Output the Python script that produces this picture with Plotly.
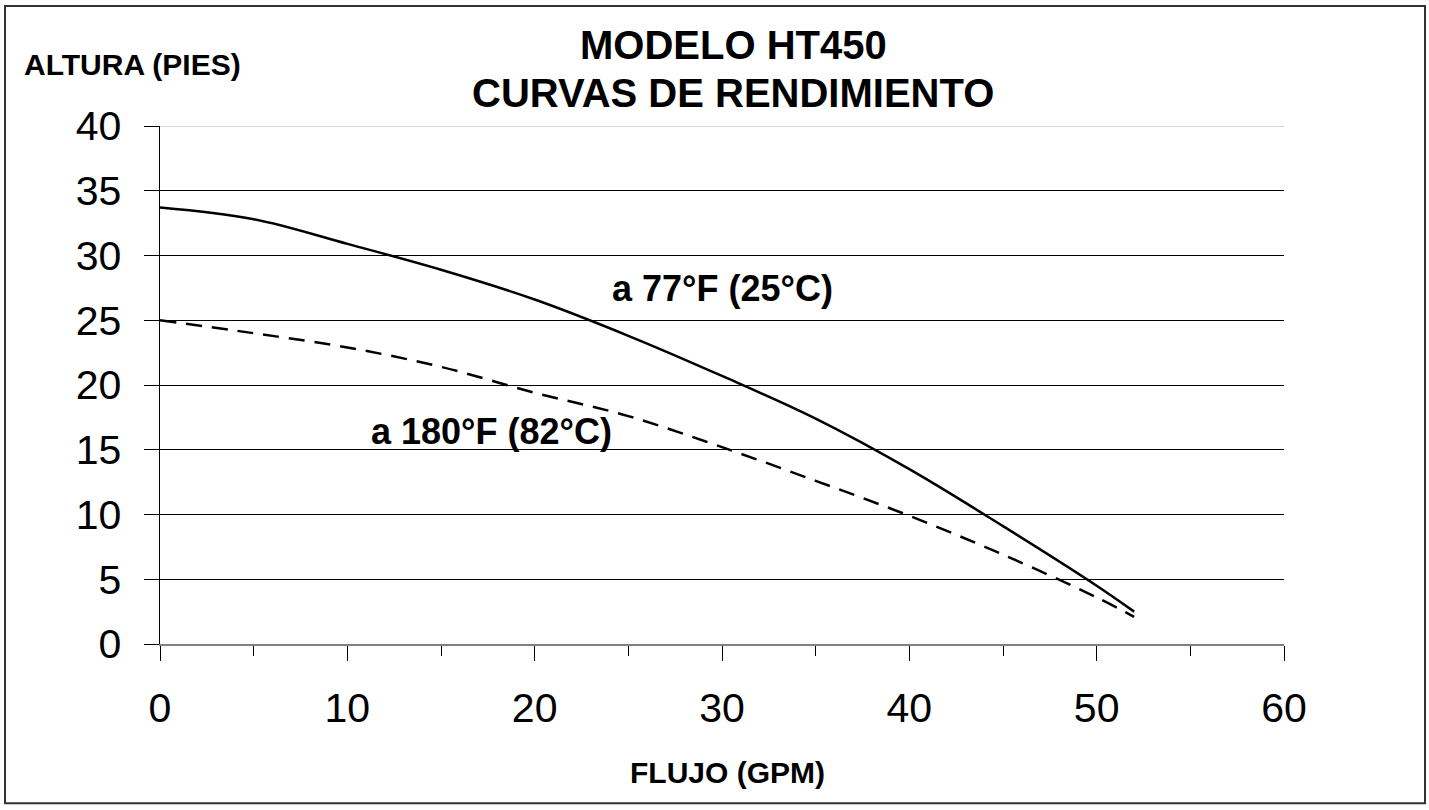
import plotly.graph_objects as go

# Data
flow_gpm = [0, 5, 10, 15, 20, 25, 30, 35, 40, 45, 50, 52]
head_77f = [33.7, 32.8, 30.9, 28.9, 26.6, 23.8, 20.7, 17.4, 13.5, 9.1, 4.5, 2.5]
head_180f = [25.0, 24.0, 22.9, 21.4, 19.4, 17.6, 15.2, 12.6, 9.9, 6.9, 3.6, 2.1]

x_ticks = [0, 10, 20, 30, 40, 50, 60]
y_ticks = [0, 5, 10, 15, 20, 25, 30, 35, 40]

title_1 = "MODELO HT450"
title_2 = "CURVAS DE RENDIMIENTO"
y_title = "ALTURA (PIES)"
x_title = "FLUJO (GPM)"
label_77 = "a 77°F (25°C)"
label_180 = "a 180°F (82°C)"

FONT = "Liberation Sans, Arial, sans-serif"
W, H = 1429, 810
PL, PR, PT, PB = 160, 1284, 126, 644.5   # plot area in screen pixels
PW = PR - PL
PH = PB - PT


def px(xp):
    return (xp - PL) / PW


def py(yp):
    return (PB - yp) / PH


fig = go.Figure()
fig.add_trace(go.Scatter(x=flow_gpm, y=head_77f, mode="lines",
                         line=dict(color="black", width=2.5, shape="spline", smoothing=1.0),
                         showlegend=False, hoverinfo="skip"))
fig.add_trace(go.Scatter(x=flow_gpm, y=head_180f, mode="lines",
                         line=dict(color="black", width=2.5, shape="spline", smoothing=1.0,
                                   dash="16px,10px"),
                         showlegend=False, hoverinfo="skip"))

annotations = [
    dict(text=f"<b>{title_1}</b>", x=px(733), y=py(45), xref="paper", yref="paper",
         showarrow=False, font=dict(size=40, family=FONT, color="black"),
         xanchor="center", yanchor="middle"),
    dict(text=f"<b>{title_2}</b>", x=px(733), y=py(92.5), xref="paper", yref="paper",
         showarrow=False, font=dict(size=40, family=FONT, color="black"),
         xanchor="center", yanchor="middle"),
    dict(text=f"<b>{y_title}</b>", x=px(22), y=py(64), xref="paper", yref="paper",
         showarrow=False, font=dict(size=30, family=FONT, color="black"),
         xanchor="left", yanchor="middle"),
    dict(text=f"<b>{x_title}</b>", x=px(727), y=py(773), xref="paper", yref="paper",
         showarrow=False, font=dict(size=30, family=FONT, color="black"),
         xanchor="center", yanchor="middle"),
    dict(text=f"<b>{label_77}</b>", x=px(610), y=py(289), xref="paper", yref="paper",
         showarrow=False, font=dict(size=36, family=FONT, color="black"),
         xanchor="left", yanchor="middle"),
    dict(text=f"<b>{label_180}</b>", x=px(369), y=py(432), xref="paper", yref="paper",
         showarrow=False, font=dict(size=36, family=FONT, color="black"),
         xanchor="left", yanchor="middle"),
]

shapes = [
    # outer border
    dict(type="rect", xref="paper", yref="paper", x0=px(5), x1=px(1425), y0=py(804), y1=py(6),
         line=dict(color="#333333", width=2), fillcolor="rgba(0,0,0,0)", layer="below"),
    # lighter top gridline at 40
    dict(type="line", xref="x", yref="y", x0=0, x1=60, y0=40, y1=40,
         line=dict(color="#c8c8c8", width=1.5), layer="above"),
]

fig.update_layout(
    width=W, height=H,
    margin=dict(l=PL, r=W - PR, t=PT, b=H - PB),
    paper_bgcolor="white", plot_bgcolor="white",
    font=dict(family=FONT, color="black"),
    annotations=annotations, shapes=shapes,
    xaxis=dict(range=[0, 60], tickvals=x_ticks, ticks="outside", ticklen=15, tickwidth=1,
               tickcolor="black", showgrid=False, zeroline=False, showline=True,
               linecolor="#808080", linewidth=1.5,
               tickfont=dict(size=41, family=FONT, color="black"), ticklabelstandoff=12,
               minor=dict(tickvals=[5, 15, 25, 35, 45, 55], ticks="outside", ticklen=10,
                          tickcolor="black", tickwidth=1, showgrid=False)),
    yaxis=dict(range=[0, 40], tickvals=y_ticks, ticks="outside", ticklen=15, tickwidth=1,
               tickcolor="black", showgrid=True, gridcolor="black", gridwidth=1,
               zeroline=False, showline=True, linecolor="black", linewidth=1.5,
               tickfont=dict(size=41, family=FONT, color="black"), ticklabelstandoff=14),
)

fig.write_html(
    "out.html",
    config={"displayModeBar": False, "staticPlot": True},
    post_script="document.body.style.margin='0px';document.body.style.overflow='hidden';"
                "document.documentElement.style.overflow='hidden';",
)
